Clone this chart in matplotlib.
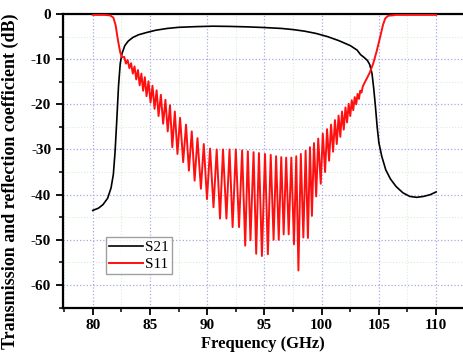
import matplotlib
matplotlib.use("Agg")
import matplotlib.pyplot as plt
from matplotlib.ticker import MultipleLocator

plt.rcParams["font.family"] = ["Liberation Serif", "DejaVu Serif"]
plt.rcParams["axes.unicode_minus"] = False

# S21 (transmission)
s21_freq = [80.0, 80.5, 80.9, 81.3, 81.6, 81.8, 81.95, 82.1, 82.25, 82.4, 82.55,
            82.8, 83.1, 83.5, 84.0, 84.7, 85.5, 86.5, 87.5, 89.0, 90.5, 92.0,
            93.5, 95.0, 96.5, 97.5, 98.5, 99.5, 100.5, 101.5, 102.5, 103.1,
            103.4, 103.7, 104.0, 104.2, 104.4, 104.55, 104.7, 104.85, 105.0,
            105.25, 105.6, 106.0, 106.5, 107.1, 107.7, 108.3, 108.9, 109.5, 110.0]
s21_db = [-43.5, -43.0, -42.2, -40.8, -38.5, -35.5, -30.5, -23.5, -16.0, -11.0, -8.8,
          -7.0, -6.0, -5.2, -4.6, -4.1, -3.6, -3.2, -2.95, -2.8, -2.7, -2.75,
          -2.85, -3.0, -3.2, -3.45, -3.8, -4.3, -5.0, -5.9, -7.0, -8.0,
          -9.0, -9.6, -10.3, -11.2, -13.2, -16.5, -20.5, -25.0, -28.5,
          -31.5, -34.5, -36.5, -38.2, -39.6, -40.4, -40.6, -40.4, -40.0, -39.4]

# S11 (reflection): smooth edges plus ripple peaks and dips
s11_freq = [80.0, 81.0, 81.5, 81.8, 82.0, 82.1, 82.25, 82.4, 82.55, 82.75,
            82.9, 83.05, 83.2, 83.35, 83.5, 83.65, 83.8, 83.95, 84.1, 84.25,
            84.4, 84.55, 84.7, 84.87, 85.05, 85.22, 85.4, 85.58, 85.75, 85.95,
            86.15, 86.35, 86.55, 86.75, 86.95, 87.17, 87.4, 87.63, 87.9, 88.15,
            88.4, 88.65, 88.9, 89.15, 89.45, 89.7, 89.98, 90.25, 90.55, 90.83,
            91.12, 91.38, 91.68, 91.95, 92.22, 92.5, 92.78, 93.05, 93.32, 93.55,
            93.78, 94.05, 94.28, 94.52, 94.78, 95.05, 95.3, 95.55, 95.8, 96.02,
            96.25, 96.47, 96.68, 96.9, 97.12, 97.35, 97.58, 97.78, 97.97, 98.18,
            98.4, 98.6, 98.8, 98.98, 99.15, 99.33, 99.52, 99.7, 99.92, 100.1,
            100.3, 100.47, 100.65, 100.82, 101.0, 101.16, 101.32, 101.48, 101.63, 101.78,
            101.93, 102.08, 102.22, 102.36, 102.5, 102.63, 102.76, 102.89, 103.02, 103.14,
            103.26, 103.37, 103.48, 103.6, 103.9, 104.2, 104.5, 104.8, 105.1, 105.35,
            105.55, 105.8, 106.5, 110.0]
s11_db = [-0.2, -0.2, -0.3, -0.8, -2.5, -4.2, -6.5, -8.5, -9.6, -9.5,
          -11.0, -10.2, -12.0, -10.9, -13.2, -11.6, -14.5, -12.4, -15.8, -13.2,
          -17.0, -14.0, -18.2, -14.9, -19.6, -15.9, -21.0, -16.9, -22.6, -17.9,
          -24.3, -19.0, -26.0, -20.2, -29.5, -21.6, -31.0, -23.0, -32.8, -24.5,
          -34.7, -26.0, -36.9, -27.5, -38.7, -28.8, -41.0, -29.8, -42.8, -30.0,
          -45.3, -30.0, -45.3, -30.0, -47.2, -30.0, -47.2, -30.2, -51.3, -30.4,
          -50.1, -30.6, -53.1, -30.8, -53.6, -31.0, -53.2, -31.2, -50.0, -31.5,
          -50.0, -31.7, -48.8, -31.8, -48.8, -31.8, -51.0, -31.5, -56.8, -31.0,
          -49.5, -30.3, -49.6, -29.5, -44.7, -28.6, -40.4, -27.6, -37.6, -26.5,
          -35.0, -25.5, -32.5, -24.5, -30.5, -23.5, -28.8, -22.5, -27.2, -21.6,
          -25.6, -20.7, -24.0, -19.9, -22.6, -19.1, -21.3, -18.4, -20.0, -17.7,
          -18.8, -17.0, -17.4, -16.0, -14.5, -13.0, -11.0, -8.3, -5.2, -2.5,
          -1.0, -0.4, -0.2, -0.2]

fig = plt.figure(figsize=(4.63, 3.58), dpi=100)
ax = fig.add_axes([63 / 463, 50.5 / 358, 400 / 463, 293.5 / 358])

ax.plot(s21_freq, s21_db, color='black', lw=1.2, label='S21', zorder=3)
ax.plot(s11_freq, s11_db, color='#ff1010', lw=1.4, label='S11', zorder=3)

ax.set_xlim(77.4, 112.35)
ax.set_ylim(-65, 0)
ax.xaxis.set_major_locator(MultipleLocator(5))
ax.xaxis.set_minor_locator(MultipleLocator(2.5))
ax.yaxis.set_major_locator(MultipleLocator(10))
ax.yaxis.set_minor_locator(MultipleLocator(5))

ax.grid(which='major', color='#a8a8e8', linestyle=':', lw=0.9)
ax.grid(which='minor', color='#d6efd6', linestyle=':', lw=0.8)
ax.set_axisbelow(True)

for side in ['left', 'top', 'bottom']:
    ax.spines[side].set_linewidth(1.6)
ax.spines['right'].set_visible(False)
ax.tick_params(which='major', direction='out', length=5, width=1.3,
               labelsize=11)
ax.tick_params(which='minor', direction='out', length=3, width=1.1)
for lab in ax.get_xticklabels() + ax.get_yticklabels():
    lab.set_fontweight('bold')

ax.set_xlabel('Frequency (GHz)', fontsize=12, fontweight='bold', labelpad=3)
ax.set_ylabel('Transmission and reflection coefficient (dB)', fontsize=13,
              fontweight='bold')
ax.yaxis.set_label_coords(-0.11, 0.431)

leg = ax.legend(loc='lower left', bbox_to_anchor=(0.1075, 0.114), fontsize=11,
                frameon=True, fancybox=False, handlelength=2.2,
                borderpad=0.2, labelspacing=0.2, handletextpad=0.15,
                borderaxespad=0)
leg.get_frame().set_edgecolor('#888888')
leg.get_frame().set_linewidth(1.0)

plt.savefig('out.png', dpi=100)
plt.close(fig)
